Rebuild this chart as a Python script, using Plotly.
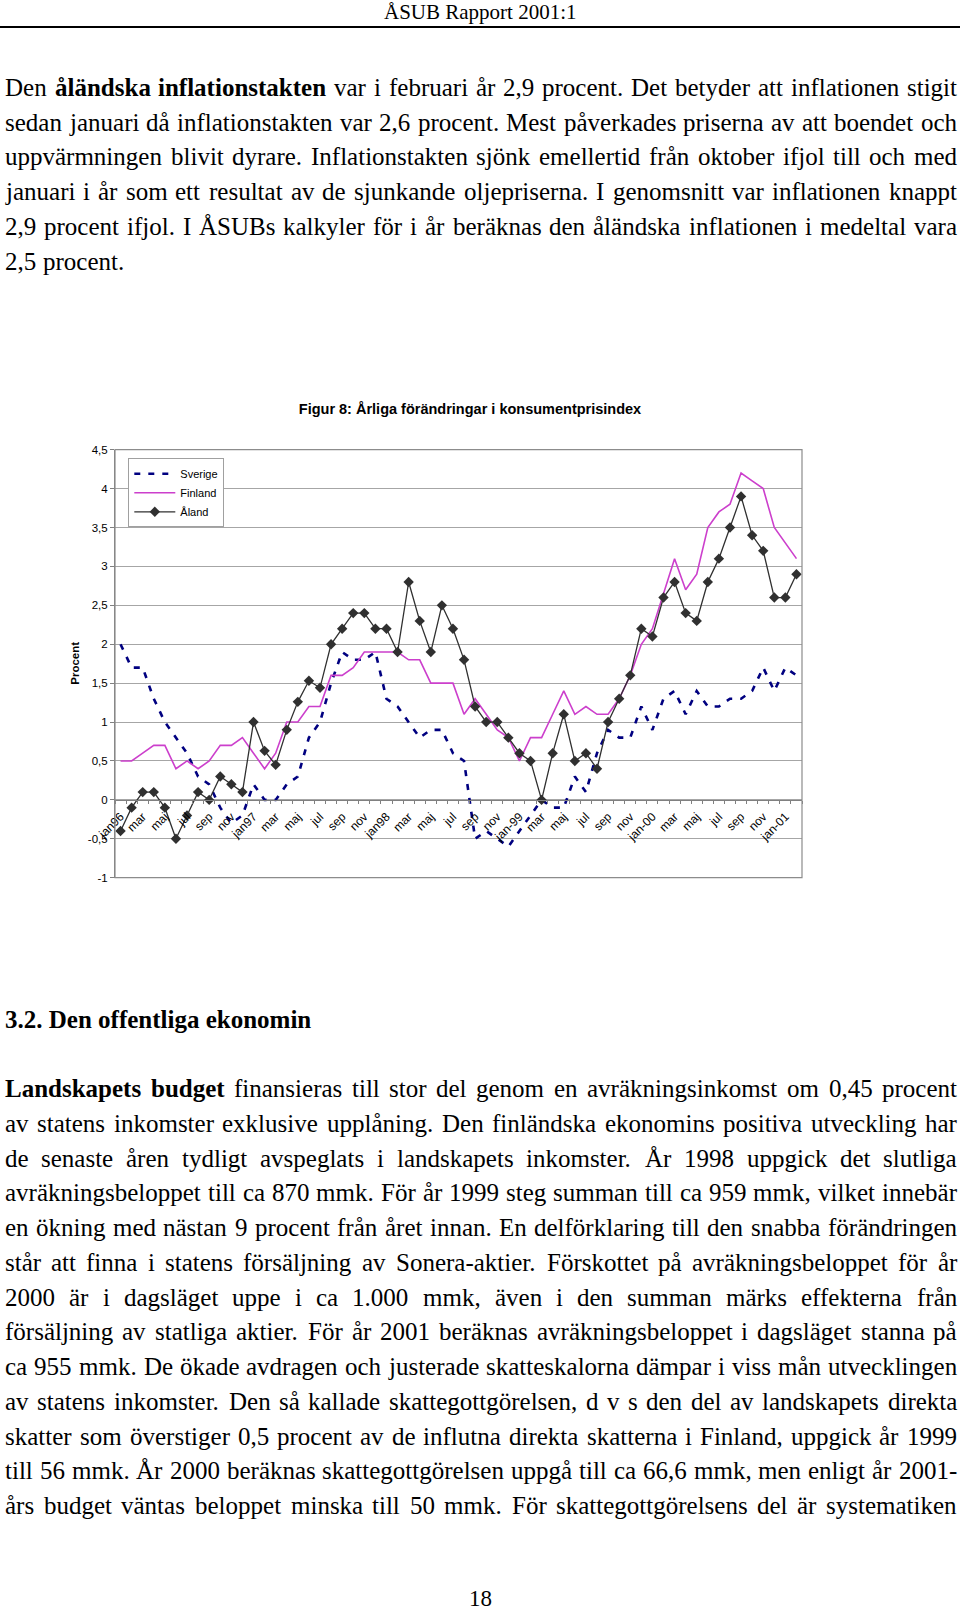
import plotly.graph_objects as go

W, H = 960, 1613

# ---------------- chart data ----------------
month_index = list(range(62))  # jan96 ... feb01
tick_positions = list(range(0, 62, 2))
tick_labels = ["jan96", "mar", "maj", "jul", "sep", "nov",
               "jan97", "mar", "maj", "jul", "sep", "nov",
               "jan98", "mar", "maj", "jul", "sep", "nov",
               "jan-99", "mar", "maj", "jul", "sep", "nov",
               "jan-00", "mar", "maj", "jul", "sep", "nov",
               "jan-01"]

sverige = [2.0, 1.7, 1.7, 1.3, 1.0, 0.8, 0.6, 0.3, 0.2, -0.1, -0.3, -0.2,
           0.2, 0.0, 0.0, 0.2, 0.3, 0.8, 1.0, 1.5, 1.9, 1.8, 1.8, 1.9,
           1.3, 1.2, 1.0, 0.8, 0.9, 0.9, 0.6, 0.5, -0.5, -0.4, -0.5, -0.6,
           -0.4, -0.2, 0.0, -0.1, -0.1, 0.3, 0.1, 0.6, 0.9, 0.8, 0.8, 1.2,
           0.9, 1.3, 1.4, 1.1, 1.4, 1.2, 1.2, 1.3, 1.3, 1.4, 1.7, 1.4,
           1.7, 1.6]

finland = [0.5, 0.5, 0.6, 0.7, 0.7, 0.4, 0.5, 0.4, 0.5, 0.7, 0.7, 0.8,
           0.6, 0.4, 0.6, 1.0, 1.0, 1.2, 1.2, 1.6, 1.6, 1.7, 1.9, 1.9,
           1.9, 1.9, 1.8, 1.8, 1.5, 1.5, 1.5, 1.1, 1.3, 1.1, 0.9, 0.8,
           0.5, 0.8, 0.8, 1.1, 1.4, 1.1, 1.2, 1.1, 1.1, 1.3, 1.6, 2.0,
           2.2, 2.65, 3.1, 2.7, 2.9, 3.5, 3.7, 3.8, 4.2, 4.1, 4.0, 3.5,
           3.3, 3.1]

aland = [-0.4, -0.1, 0.1, 0.1, -0.1, -0.5, -0.2, 0.1, 0.0, 0.3, 0.2, 0.1,
         1.0, 0.63, 0.45, 0.9, 1.26, 1.53, 1.44, 2.0, 2.2, 2.4, 2.4, 2.2,
         2.2, 1.9, 2.8, 2.3, 1.9, 2.5, 2.2, 1.8, 1.2, 1.0, 1.0, 0.8,
         0.6, 0.5, 0.0, 0.6, 1.1, 0.5, 0.6, 0.4, 1.0, 1.3, 1.6, 2.2,
         2.1, 2.6, 2.8, 2.4, 2.3, 2.8, 3.1, 3.5, 3.9, 3.4, 3.2, 2.6,
         2.6, 2.9]

y_tick_vals = [-1, -0.5, 0, 0.5, 1, 1.5, 2, 2.5, 3, 3.5, 4, 4.5]
y_tick_text = ["-1", "-0,5", "0", "0,5", "1", "1,5", "2", "2,5", "3", "3,5", "4", "4,5"]

chart_title = "Figur 8: Årliga förändringar i konsumentprisindex"
y_title = "Procent"

# ---------------- page text ----------------
header_text = "ÅSUB Rapport 2001:1"
page_number = "18"
heading_text = "3.2. Den offentliga ekonomin"

para1_lines = [
    "Den <b>åländska</b> <b>inflationstakten</b> var i februari år 2,9 procent. Det betyder att inflationen stigit",
    "sedan januari då inflationstakten var 2,6 procent. Mest påverkades priserna av att boendet och",
    "uppvärmningen blivit dyrare. Inflationstakten sjönk emellertid från oktober ifjol till och med",
    "januari i år som ett resultat av de sjunkande oljepriserna. I genomsnitt var inflationen knappt",
    "2,9 procent ifjol. I ÅSUBs kalkyler för i år beräknas den åländska inflationen i medeltal vara",
    "2,5 procent.",
]

para2_lines = [
    "<b>Landskapets</b> <b>budget</b> finansieras till stor del genom en avräkningsinkomst om 0,45 procent",
    "av statens inkomster exklusive upplåning. Den finländska ekonomins positiva utveckling har",
    "de senaste åren tydligt avspeglats i landskapets inkomster. År 1998 uppgick det slutliga",
    "avräkningsbeloppet till ca 870 mmk. För år 1999 steg summan till ca 959 mmk, vilket innebär",
    "en ökning med nästan 9 procent från året innan. En delförklaring till den snabba förändringen",
    "står att finna i statens försäljning av Sonera-aktier. Förskottet på avräkningsbeloppet för år",
    "2000 är i dagsläget uppe i ca 1.000 mmk, även i den summan märks effekterna från",
    "försäljning av statliga aktier. För år 2001 beräknas avräkningsbeloppet i dagsläget stanna på",
    "ca 955 mmk. De ökade avdragen och justerade skatteskalorna dämpar i viss mån utvecklingen",
    "av statens inkomster. Den så kallade skattegottgörelsen, d v s den del av landskapets direkta",
    "skatter som överstiger 0,5 procent av de influtna direkta skatterna i Finland, uppgick år 1999",
    "till 56 mmk. År 2000 beräknas skattegottgörelsen uppgå till ca 66,6 mmk, men enligt år 2001-",
    "års budget väntas beloppet minska till 50 mmk. För skattegottgörelsens del är systematiken",
]

# ---------------- helpers ----------------
def py(px):
    return 1 - px / H

def pxx(px):
    return px / W

# Times (Liberation Serif) advance widths per 1000 em
TR = dict(zip("abcdefghijklmnopqrstuvwxyz",
              [444, 500, 444, 500, 444, 333, 500, 500, 278, 278, 500, 278, 778,
               500, 500, 500, 500, 333, 389, 278, 500, 500, 722, 500, 500, 444]))
TR.update(dict(zip("ABCDEFGHIJKLMNOPQRSTUVWXYZ",
                   [722, 667, 667, 722, 611, 556, 722, 722, 333, 389, 722, 611, 889,
                    722, 722, 556, 722, 667, 556, 611, 722, 722, 944, 722, 722, 611])))
TR.update({"å": 444, "ä": 444, "ö": 500, "Å": 722, "Ä": 722, "Ö": 722,
           " ": 250, ",": 250, ".": 250, "-": 333, ":": 278, ";": 278})
for d in "0123456789":
    TR[d] = 500
TB = dict(zip("abcdefghijklmnopqrstuvwxyz",
              [500, 556, 444, 556, 444, 333, 500, 556, 278, 333, 556, 278, 833,
               556, 500, 556, 556, 444, 389, 333, 556, 500, 722, 500, 500, 444]))
TB.update(dict(zip("ABCDEFGHIJKLMNOPQRSTUVWXYZ",
                   [722, 667, 722, 722, 667, 611, 778, 778, 389, 500, 778, 667, 944,
                    722, 778, 611, 778, 722, 556, 667, 722, 722, 1000, 722, 722, 667])))
TB.update({"å": 500, "ä": 500, "ö": 500, " ": 250, ",": 250, ".": 250, "-": 333, ":": 333})
for d in "0123456789":
    TB[d] = 500

FS = 25
TEXT_L, TEXT_R = 4, 956
SERIF = "Liberation Serif, Times New Roman, serif"
SANS = "Liberation Sans, Arial, sans-serif"

annotations = []

def tok_width(tok):
    bold = "<b>" in tok
    s = tok.replace("<b>", "").replace("</b>", "")
    tab = TB if bold else TR
    return sum(tab.get(c, 500) for c in s) / 1000.0 * FS

def add_line(line, y_px, justify):
    toks = line.split(" ")
    ws = [tok_width(t) for t in toks]
    if justify and len(toks) > 1:
        gap = (TEXT_R - TEXT_L - sum(ws)) / (len(toks) - 1)
    else:
        gap = 250 / 1000.0 * FS
    x = TEXT_L
    for t, w in zip(toks, ws):
        annotations.append(dict(text=t, x=pxx(x), y=py(y_px), xref="paper", yref="paper",
                                xanchor="left", yanchor="middle", showarrow=False,
                                borderpad=0, font=dict(family=SERIF, size=FS, color="black")))
        x += w + gap

LINE_STEP = 34.75
for k, ln in enumerate(para1_lines):
    add_line(ln, 87.5 + k * LINE_STEP, justify=(k < len(para1_lines) - 1))
for k, ln in enumerate(para2_lines):
    add_line(ln, 1088.7 + k * LINE_STEP, justify=True)

annotations.append(dict(text="<b>" + heading_text + "</b>", x=pxx(TEXT_L), y=py(1019),
                        xref="paper", yref="paper", xanchor="left", yanchor="middle",
                        showarrow=False, borderpad=0,
                        font=dict(family=SERIF, size=FS, color="black")))
annotations.append(dict(text=header_text, x=0.5, y=py(12.5), xref="paper", yref="paper",
                        xanchor="center", yanchor="middle", showarrow=False, borderpad=0,
                        font=dict(family=SERIF, size=21, color="black")))
annotations.append(dict(text=page_number, x=0.5, y=py(1598), xref="paper", yref="paper",
                        xanchor="center", yanchor="middle", showarrow=False, borderpad=0,
                        font=dict(family=SERIF, size=23, color="black")))
annotations.append(dict(text="<b>" + y_title + "</b>", x=pxx(75), y=py(663.7),
                        xref="paper", yref="paper", xanchor="center", yanchor="middle",
                        textangle=-90, showarrow=False, borderpad=0,
                        font=dict(family=SANS, size=11.5, color="black")))

# ---------------- figure ----------------
PLOT_L, PLOT_R = 115, 802
PLOT_T, PLOT_B = 449.7, 877.7
Y_ZERO_PX = 800

fig = go.Figure()
fig.add_trace(go.Scatter(x=month_index, y=sverige, name="Sverige", mode="lines",
                         line=dict(color="#000080", width=2.6, dash="6px,8px")))
fig.add_trace(go.Scatter(x=month_index, y=finland, name="Finland", mode="lines",
                         line=dict(color="#CC3FCC", width=1.6)))
fig.add_trace(go.Scatter(x=month_index, y=aland, name="Åland", mode="lines+markers",
                         line=dict(color="#303030", width=1.3),
                         marker=dict(symbol="diamond", size=8, color="#303030")))

fig.update_layout(
    width=W, height=H, autosize=False,
    margin=dict(l=0, r=0, t=0, b=0, pad=0, autoexpand=False),
    paper_bgcolor="white", plot_bgcolor="white",
    showlegend=True,
    title=dict(text="<b>" + chart_title + "</b>", x=pxx(470), y=py(409),
               xref="paper", yref="paper", xanchor="center", yanchor="middle",
               automargin=False,
               font=dict(family=SANS, size=14.5, color="black")),
    legend=dict(x=pxx(128.3), y=py(458.3), xanchor="left", yanchor="top",
                bgcolor="white", bordercolor="#a0a0a0", borderwidth=1,
                font=dict(family=SANS, size=11, color="black"),
                itemwidth=41, tracegroupgap=0),
    xaxis=dict(domain=[pxx(PLOT_L), pxx(PLOT_R)], range=[-0.5, 61.5],
               anchor="free", position=py(Y_ZERO_PX), automargin=False,
               tickmode="array", tickvals=tick_positions, ticktext=tick_labels,
               tickangle=-45, ticks="outside", ticklen=4, tickcolor="rgba(0,0,0,0)",
               tickfont=dict(family=SANS, size=12, color="black"),
               showline=True, linecolor="#808080", linewidth=1,
               showgrid=False, zeroline=False, fixedrange=True,
               minor=dict(tickmode="array", tickvals=[i - 0.5 for i in range(63)],
                          ticks="outside", ticklen=3, tickcolor="#808080", showgrid=False)),
    yaxis=dict(domain=[py(PLOT_B), py(PLOT_T)], range=[-1, 4.5], automargin=False,
               tickmode="array", tickvals=y_tick_vals, ticktext=y_tick_text,
               ticks="outside", ticklen=4, tickcolor="#808080",
               tickfont=dict(family=SANS, size=11.5, color="black"),
               showline=True, linecolor="#808080", linewidth=1,
               showgrid=True, gridcolor="#a6a6a6", gridwidth=1,
               zeroline=False, fixedrange=True),
    annotations=annotations,
    shapes=[
        dict(type="rect", xref="x domain", yref="y domain", x0=0, x1=1, y0=0, y1=1,
             line=dict(color="#8c8c8c", width=1.2), layer="above"),
        dict(type="line", xref="paper", yref="paper", x0=0, x1=1, y0=py(27), y1=py(27),
             line=dict(color="black", width=2)),
    ],
)

fig.write_html("out.html", config={"displayModeBar": False},
               post_script="document.body.style.margin='0';document.body.style.overflow='hidden';")
